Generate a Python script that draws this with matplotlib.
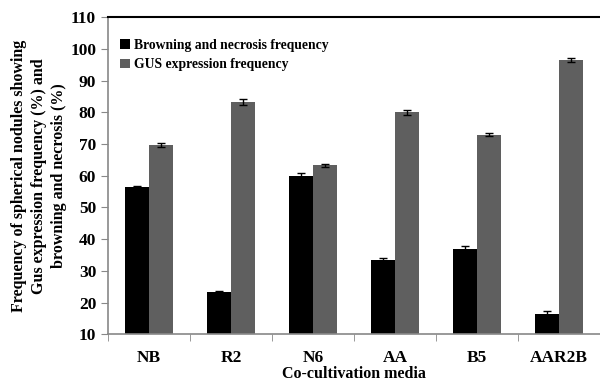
import numpy as np
import matplotlib.pyplot as plt

media = ['NB', 'R2', 'N6', 'AA', 'B5', 'AAR2B']
browning = [56.6, 23.2, 59.9, 33.3, 36.8, 16.5]
browning_err = [0.3, 0.5, 1.1, 0.8, 1.1, 0.7]
gus = [69.8, 83.2, 63.3, 80.0, 73.0, 96.5]
gus_err = [0.6, 0.9, 0.5, 0.8, 0.6, 0.5]

plt.rcParams['font.family'] = 'Liberation Serif'
plt.rcParams['font.weight'] = 'bold'

fig, ax = plt.subplots(figsize=(6, 3.82), dpi=100)
fig.subplots_adjust(left=0.18, right=1.0, top=0.955, bottom=0.125)

x = np.arange(len(media))
w = 0.29
err_kw = dict(ecolor='black', capsize=3, elinewidth=1, capthick=1)
ax.bar(x - w / 2, browning, w, yerr=browning_err, color='black',
       error_kw=err_kw, label='Browning and necrosis frequency')
ax.bar(x + w / 2, gus, w, yerr=gus_err, color='#5f5f5f',
       error_kw=err_kw, label='GUS expression frequency')

ax.set_xlim(-0.5, len(media) - 0.5)
ax.set_ylim(10, 110)
ax.set_yticks(range(10, 111, 10))
ax.set_xticks(x)
ax.set_xticklabels(media)
ax.set_xticks(np.arange(-0.5, len(media)), minor=True)
ax.tick_params(axis='x', which='major', length=0, pad=11, labelsize=12.5)
ax.tick_params(axis='x', which='minor', length=5, color='#888888', direction='out')
ax.tick_params(axis='y', length=5, color='#888888', direction='out', labelsize=12.5)

for s in ['left', 'bottom']:
    ax.spines[s].set_color('#888888')
    ax.spines[s].set_linewidth(1.2)
ax.spines['right'].set_visible(False)
ax.spines['top'].set_color('black')
ax.spines['top'].set_linewidth(1.5)

ax.set_xlabel('Co-cultivation media', fontsize=11.5, fontweight='bold', labelpad=0)
ax.set_ylabel('Frequency of spherical nodules showing\nGus expression frequency (%) and\nbrowning and necrosis (%)',
              fontsize=11.5, fontweight='bold', linespacing=1.35, labelpad=2)

ax.legend(loc='upper left', frameon=False, fontsize=9.8, handlelength=0.7,
          handleheight=0.7, handletextpad=0.3, labelspacing=0.45,
          bbox_to_anchor=(0.0, 0.97))

fig.savefig('out.png')
